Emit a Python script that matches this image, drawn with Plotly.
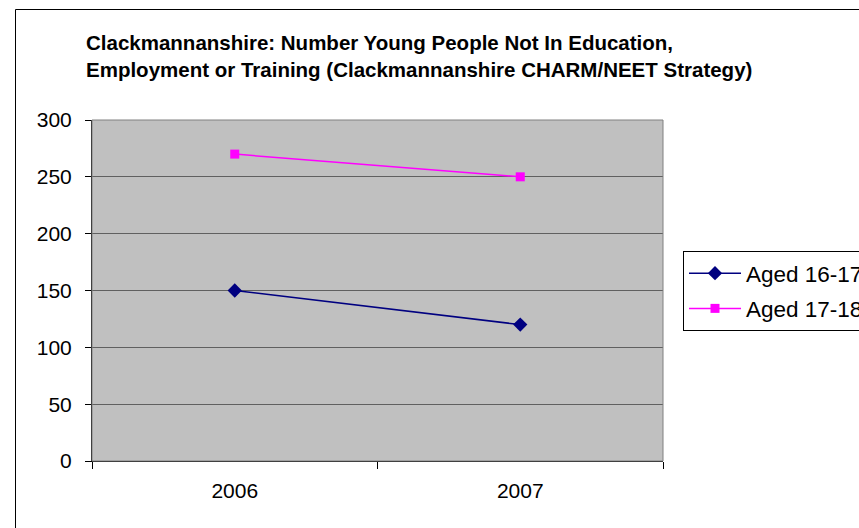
import plotly.graph_objects as go

years = ["2006", "2007"]
aged_16_17 = [150, 120]
aged_17_18 = [270, 250]
series_names = ["Aged 16-17", "Aged 17-18"]
title_lines = ["Clackmannanshire: Number Young People Not In Education,",
               "Employment or Training (Clackmannanshire CHARM/NEET Strategy)"]

W, H = 859, 528
L, R, T, B = 92, 663, 120, 461
pw, ph = R - L, B - T

fig = go.Figure()
fig.add_trace(go.Scatter(x=years, y=aged_16_17, name=series_names[0], mode="lines+markers",
                         line=dict(color="#000080", width=1.5),
                         marker=dict(symbol="diamond", size=11, color="#000080"),
                         legendgroup="a"))
fig.add_trace(go.Scatter(x=years, y=aged_17_18, name=series_names[1], mode="lines+markers",
                         line=dict(color="#FF00FF", width=1.5),
                         marker=dict(symbol="square", size=9, color="#FF00FF"),
                         legendgroup="b"))

def px2x(x):
    return (x - L) / pw

def px2y(y):
    return (B - y) / ph

shapes = [
    dict(type="path", xref="paper", yref="paper",
         path=f"M {px2x(15.5)} {px2y(540)} L {px2x(15.5)} {px2y(9.5)} L {px2x(900)} {px2y(9.5)}",
         line=dict(color="black", width=1)),
    dict(type="rect", xref="paper", yref="paper", x0=0, x1=1, y0=0, y1=1,
         line=dict(color="#808080", width=1), layer="above"),
]

annotations = [
    dict(text=f"<b>{title_lines[0]}</b>", xref="paper", yref="paper",
         x=px2x(84), y=px2y(42), xanchor="left", yanchor="middle", showarrow=False,
         font=dict(family="Liberation Sans, Arial", size=20.5, color="black")),
    dict(text=f"<b>{title_lines[1]}</b>", xref="paper", yref="paper",
         x=px2x(84), y=px2y(70), xanchor="left", yanchor="middle", showarrow=False,
         font=dict(family="Liberation Sans, Arial", size=20.5, color="black")),
]

fig.update_layout(
    width=W, height=H,
    margin=dict(l=L, r=W - R, t=T, b=H - B, autoexpand=False),
    paper_bgcolor="white", plot_bgcolor="#C0C0C0",
    font=dict(family="Liberation Sans, Arial", size=21, color="black"),
    showlegend=True,
    legend=dict(x=px2x(683), y=px2y(251), xanchor="left", yanchor="top",
                bgcolor="white", bordercolor="black", borderwidth=1,
                font=dict(size=22.5), traceorder="grouped", tracegroupgap=3,
                itemwidth=52),
    shapes=shapes, annotations=annotations,
)
fig.update_xaxes(type="category", range=[-0.5, 1.5], tickson="boundaries",
                 ticks="outside", ticklen=7, tickcolor="black",
                 showline=True, linecolor="black", linewidth=1,
                 showgrid=False, zeroline=False, fixedrange=True,
                 ticklabelstandoff=11)
fig.update_yaxes(range=[0, 300], dtick=50, tick0=0,
                 ticks="outside", ticklen=6, tickcolor="black",
                 showline=True, linecolor="black", linewidth=1,
                 showgrid=True, gridcolor="#606060", gridwidth=1,
                 zeroline=False, fixedrange=True, ticklabelstandoff=9)

fig.write_html("out.html")
